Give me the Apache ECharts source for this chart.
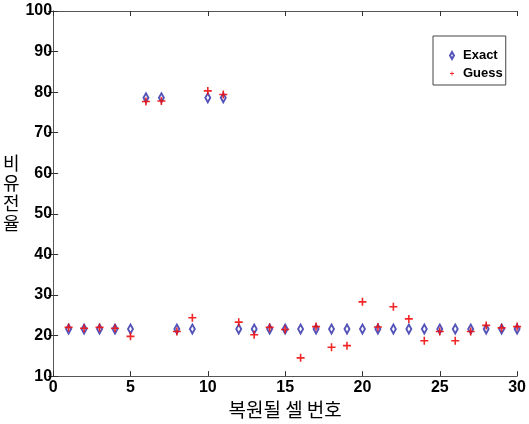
<!DOCTYPE html>
<html>
<head>
<meta charset="utf-8">
<script src="https://cdn.jsdelivr.net/npm/echarts@6/dist/echarts.min.js"></script>
<style>
  html, body { margin: 0; padding: 0; background: #fff; }
  #chart { width: 529px; height: 424px; }
</style>
</head>
<body>
<div id="chart"></div>
<script>
// cell index 1..30
var cells = [1, 2, 3, 4, 5, 6, 7, 8, 9, 10, 11, 12, 13, 14, 15,
             16, 17, 18, 19, 20, 21, 22, 23, 24, 25, 26, 27, 28, 29, 30];
var exactVals = [21.6, 21.6, 21.6, 21.6, 21.6, 78.6, 78.6, 21.6, 21.6, 78.6, 78.6, 21.6, 21.6, 21.6, 21.6,
                 21.6, 21.6, 21.6, 21.6, 21.6, 21.6, 21.6, 21.6, 21.6, 21.6, 21.6, 21.6, 21.6, 21.6, 21.6];
var guessVals = [22.0, 21.8, 22.0, 21.8, 19.8, 77.7, 77.8, 21.0, 24.4, 80.3, 79.4, 23.3, 20.2, 22.0, 21.5,
                 14.5, 22.2, 17.1, 17.5, 28.3, 22.1, 27.1, 24.1, 18.7, 21.0, 18.7, 21.0, 22.5, 21.9, 22.2];
var xTicks = [0, 5, 10, 15, 20, 25, 30];
var yTicks = [10, 20, 30, 40, 50, 60, 70, 80, 90, 100];

var plusPath = "path://M4,0 H6 V4 H10 V6 H6 V10 H4 V6 H0 V4 H4 Z";
var blue = "#2828a8";
var red = "#f01010";
var tickFont = { fontFamily: "Liberation Sans", fontWeight: "bold", fontSize: 16, color: "#000" };
var frame = { lineStyle: { color: "#555", width: 1 } };

function pairs(vals) {
  return vals.map(function (v, i) { return [cells[i], v]; });
}

var chart = echarts.init(document.getElementById("chart"));
chart.setOption({
  animation: false,
  grid: { left: 53, right: 8, top: 11, bottom: 44 },
  legend: {
    orient: "vertical",
    left: 433, top: 36,
    padding: [13, 3, 5, 16],
    itemGap: 5,
    itemWidth: 4, itemHeight: 7,
    borderColor: "#444", borderWidth: 1,
    backgroundColor: "#fff",
    textStyle: { fontFamily: "Liberation Sans", fontWeight: "bold", fontSize: 13, color: "#000", padding: [0, 0, 0, 4] },
    data: [
      { name: "Exact", icon: "emptyDiamond", itemStyle: { color: blue, borderColor: blue, borderWidth: 0.8 } },
      { name: "Guess", icon: plusPath, itemStyle: { color: red } }
    ]
  },
  xAxis: [
    {
      type: "value", min: 0, max: 30, interval: 5,
      name: "복원될 셀 번호", nameLocation: "middle", nameGap: 19,
      nameTextStyle: { fontFamily: "Noto Sans CJK KR", fontSize: 19, color: "#000" },
      axisLine: frame,
      axisTick: { inside: true, length: 5, lineStyle: { color: "#333" } },
      axisLabel: Object.assign({ margin: 3 }, tickFont, {
        formatter: function (v) { return xTicks.indexOf(v) >= 0 ? String(v) : ""; }
      }),
      splitLine: { show: false }
    },
    {
      type: "value", min: 0, max: 30, interval: 5, position: "top",
      axisLine: frame,
      axisTick: { inside: true, length: 5, lineStyle: { color: "#333" } },
      axisLabel: { show: false },
      splitLine: { show: false }
    }
  ],
  yAxis: [
    {
      type: "value", min: 10, max: 100, interval: 10,
      name: "비\n유\n전\n율", nameLocation: "middle", nameRotate: 0, nameGap: 31,
      nameTextStyle: { fontFamily: "Noto Sans CJK KR", fontSize: 18, lineHeight: 20, color: "#000", padding: [0, 0, 20, 0] },
      axisLine: { show: true, lineStyle: { color: "#555", width: 1 } },
      axisTick: { inside: true, length: 5, lineStyle: { color: "#333" } },
      axisLabel: Object.assign({ margin: 1 }, tickFont, {
        formatter: function (v) { return yTicks.indexOf(v) >= 0 ? String(v) : ""; }
      }),
      splitLine: { show: false }
    },
    {
      type: "value", min: 10, max: 100, interval: 10, position: "right",
      axisLine: { show: true, lineStyle: { color: "#555", width: 1 } },
      axisTick: { inside: true, length: 5, lineStyle: { color: "#333" } },
      axisLabel: { show: false },
      splitLine: { show: false }
    }
  ],
  series: [
    {
      name: "Exact", type: "scatter",
      symbol: "emptyDiamond", symbolSize: [5, 9],
      itemStyle: { color: blue, borderWidth: 0.9 },
      data: pairs(exactVals)
    },
    {
      name: "Guess", type: "scatter",
      symbol: plusPath, symbolSize: 8,
      itemStyle: { color: red, opacity: 0.9 },
      data: pairs(guessVals)
    }
  ]
});
</script>
</body>
</html>
